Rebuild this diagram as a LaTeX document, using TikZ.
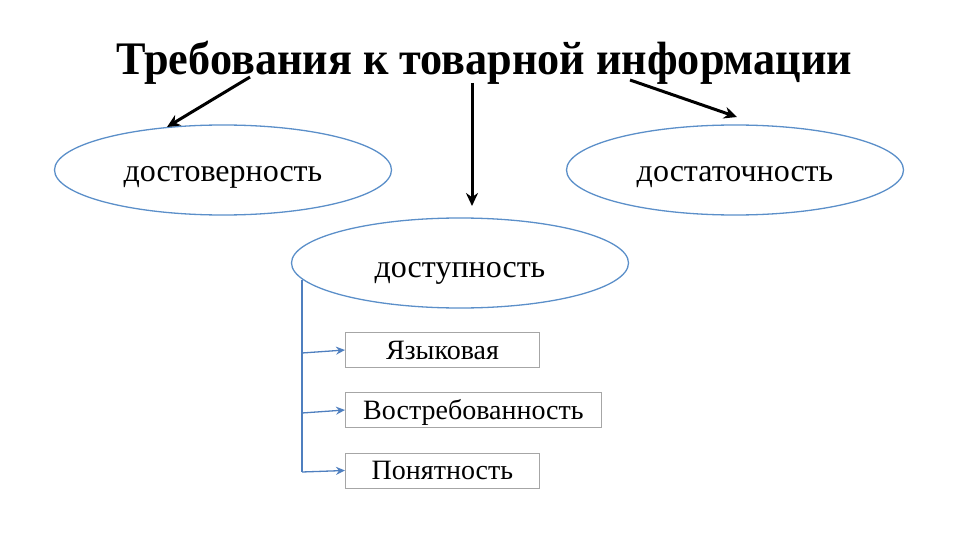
\documentclass[tikz,border=0pt]{standalone}
\usepackage{fontspec}
\setmainfont{Liberation Serif}
\usetikzlibrary{arrows.meta,shapes.geometric}
\definecolor{elblue}{HTML}{5B8FC9}
\definecolor{treeblue}{HTML}{4F7FBF}
\definecolor{boxgray}{HTML}{A6A6A6}
\begin{document}
\begin{tikzpicture}[x=1pt,y=-1pt,
  oval/.style={ellipse,draw=elblue,line width=1.3pt,minimum width=337pt,minimum height=90pt,inner sep=0pt,font=\fontsize{32}{34}\selectfont,text height=30pt,text depth=6pt},
  subbox/.style={draw=boxgray,line width=0.9pt,minimum height=35pt,inner sep=0pt,anchor=west,font=\fontsize{28}{30}\selectfont,text height=18pt,text depth=0pt},
  bigarrow/.style={-{Stealth[length=13pt,width=12pt]},line width=3pt,black},
  treeline/.style={draw=treeblue,line width=1.3pt},
  treearrow/.style={-{Stealth[length=9pt,width=8pt]},draw=treeblue,line width=1.3pt}]
\useasboundingbox (0,0) rectangle (960,540);
\node[font=\bfseries\fontsize{44}{46}\selectfont,anchor=base] (title) at (484.5,75) {\scalebox{1.005}[1.06]{Требования к товарной информации}};
\node[oval] (dost) at (223,170) {достоверность};
\node[oval] (dostat) at (735,170) {достаточность};
\node[oval,text height=32pt,text depth=4pt] (dostup) at (460,263) {доступность};
\node[subbox,minimum width=194pt] (b1) at (345,350) {Языковая};
\node[subbox,minimum width=256pt] (b2) at (345,410) {Востребованность};
\node[subbox,minimum width=194pt] (b3) at (345,470.5) {Понятность};
\coordinate (a1s) at (250,77);
\coordinate (a1e) at (167,127);
\coordinate (a2s) at (472,83);
\coordinate (a2e) at (472,206);
\coordinate (a3s) at (630,80);
\coordinate (a3e) at (737,117);
\draw[bigarrow] (a1s) -- (a1e);
\draw[bigarrow] (a2s) -- (a2e);
\draw[bigarrow] (a3s) -- (a3e);
\coordinate (tt) at (302,280);
\coordinate (tb) at (302,472);
\coordinate (t1) at (302,353);
\coordinate (t2) at (302,413);
\draw[treeline] (tt) -- (tb);
\draw[treearrow] (t1) -- (b1.west);
\draw[treearrow] (t2) -- (b2.west);
\draw[treearrow] (tb) -- (b3.west);
\end{tikzpicture}
\end{document}
